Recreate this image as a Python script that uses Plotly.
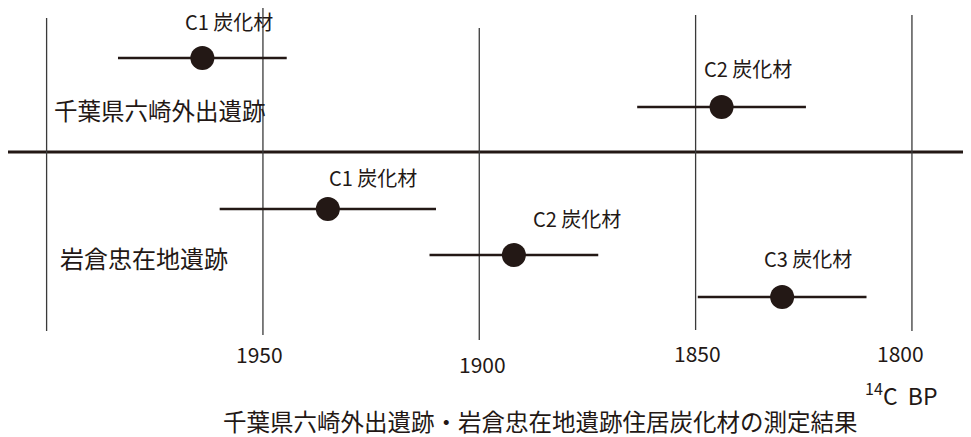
import plotly.graph_objects as go

# ---- data ----
labels = ["C1 炭化材", "C2 炭化材", "C1 炭化材", "C2 炭化材", "C3 炭化材"]
site = ["千葉県六崎外出遺跡", "千葉県六崎外出遺跡", "岩倉忠在地遺跡", "岩倉忠在地遺跡", "岩倉忠在地遺跡"]
bp_values = [1964, 1844, 1935, 1892, 1830]
bp_errors = [19.5, 19.5, 25, 19.5, 19.5]
tick_values = [1950, 1900, 1850, 1800]
tick_labels = ["1950", "1900", "1850", "1800"]
grid_years = [2000, 1950, 1900, 1850, 1800]
site_names = ["千葉県六崎外出遺跡", "岩倉忠在地遺跡"]
title_text = "千葉県六崎外出遺跡・岩倉忠在地遺跡住居炭化材の測定結果"
unit_text = "<sup>14</sup>C  BP"

# ---- layout helpers (positions/styles, in reference pixel coords) ----
PAGE_OFF = 8  # browser body margin
W, H = 971 - PAGE_OFF, 437 - PAGE_OFF
row_y = [58, 107, 209, 255, 297]
label_dx = [27, 26, 45, 63, 26]
label_dy = [-37, -39, -32, -37, -39]
grid_extent = [(18, 331), (0, 335), (28, 340), (15, 330), (15, 331)]
tick_label_y = [354, 364, 353, 353]
tick_label_dx = [-3, 3, 2, -11]
site_pos = [(160, 110, 23.5), (144, 257, 24)]
divider_y = 152


def paper_x(px):
    return (px - PAGE_OFF) / W


INK = "#231815"
FONT = "Noto Sans CJK JP, sans-serif"

fig = go.Figure()

shapes = []
for yr, (y0, y1) in zip(grid_years, grid_extent):
    shapes.append(dict(type="line", xref="x", yref="y", x0=yr, x1=yr, y0=y0, y1=y1,
                       line=dict(color="#3a3a3a", width=1.3), layer="below"))
shapes.append(dict(type="line", xref="paper", yref="y", x0=0, x1=1, y0=divider_y, y1=divider_y,
                   line=dict(color=INK, width=3), layer="below"))

fig.add_trace(go.Scatter(
    x=bp_values, y=row_y, mode="markers",
    marker=dict(size=24, color=INK),
    error_x=dict(type="data", array=bp_errors, symmetric=True, thickness=2.6, width=0, color=INK),
    hovertext=[f"{s} {l}" for s, l in zip(site, labels)],
    showlegend=False,
))

annotations = []
for x, y, t, dx, dy in zip(bp_values, row_y, labels, label_dx, label_dy):
    annotations.append(dict(x=x, y=y, xref="x", yref="y", text=t, showarrow=False,
                            xanchor="center", yanchor="middle",
                            xshift=dx, yshift=-dy,
                            font=dict(family=FONT, size=20, color=INK)))
for (px, py, fs), name in zip(site_pos, site_names):
    annotations.append(dict(x=paper_x(px), y=py, xref="paper", yref="y", text=name, showarrow=False,
                            xanchor="center", yanchor="middle",
                            font=dict(family=FONT, size=fs, color=INK)))
for v, t, ty, dx in zip(tick_values, tick_labels, tick_label_y, tick_label_dx):
    annotations.append(dict(x=v, y=ty, xref="x", yref="y", text=t, showarrow=False, xshift=dx,
                            xanchor="center", yanchor="middle",
                            font=dict(family=FONT, size=21, color=INK)))
annotations.append(dict(x=paper_x(901), y=394, xref="paper", yref="y", text=unit_text, showarrow=False,
                        xanchor="center", yanchor="middle",
                        font=dict(family=FONT, size=23, color=INK)))
annotations.append(dict(x=paper_x(540), y=421, xref="paper", yref="y", text=title_text, showarrow=False,
                        xanchor="center", yanchor="middle",
                        font=dict(family=FONT, size=23.5, color=INK)))

px_per_year = 4.3267
x_offset = 8700.0
fig.update_layout(
    width=W, height=H,
    margin=dict(l=0, r=0, t=0, b=0),
    paper_bgcolor="white", plot_bgcolor="white",
    xaxis=dict(range=[(x_offset - PAGE_OFF) / px_per_year, (x_offset - 971) / px_per_year],
               visible=False, fixedrange=True),
    yaxis=dict(range=[437, PAGE_OFF], visible=False, fixedrange=True),
    shapes=shapes,
    annotations=annotations,
    showlegend=False,
)

fig.write_html("out.html")
